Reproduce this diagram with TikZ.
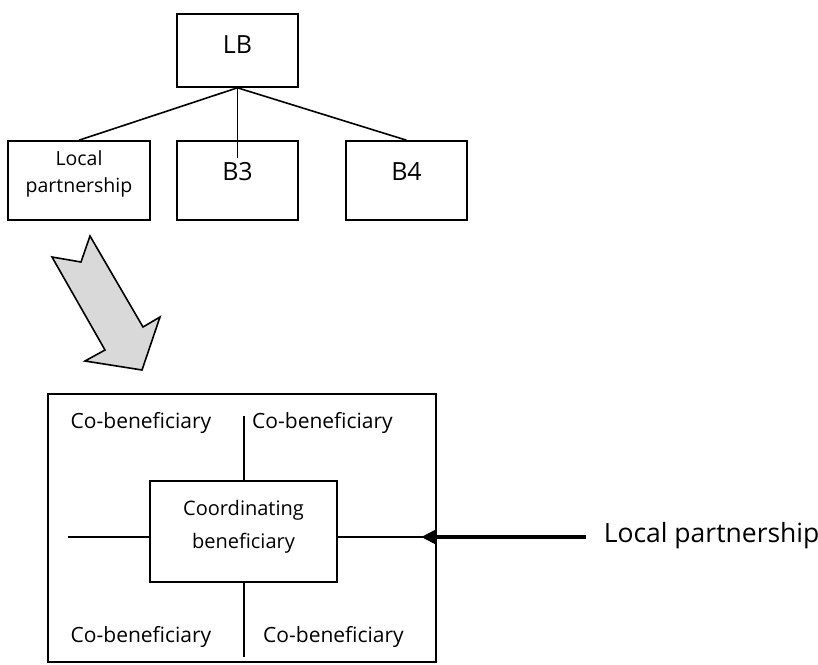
\documentclass[tikz,border=0pt]{standalone}
\usepackage{fontspec}
\setmainfont{Open Sans}
\usetikzlibrary{arrows.meta}

\begin{document}
\begin{tikzpicture}[x=1pt,y=-1pt,line width=1.6pt,
        box/.style={draw,rectangle,inner sep=0pt,align=center},
        bigtext/.style={font=\fontsize{25}{30}\selectfont},
        midtext/.style={font=\fontsize{19.5}{27}\selectfont},
        smalltext/.style={font=\fontsize{21}{33}\selectfont}]
                \useasboundingbox (0,0) rectangle (818,664);
                % upper tree
                \node [box, bigtext, minimum width=121pt, minimum height=73pt, text height=18pt, text depth=13pt] (lb) at (237.5,50.5) {LB};
                \node [box, midtext, minimum width=142pt, minimum height=79pt] (lp) at (79,180.5) {Local\\partnership\rule[-17pt]{0pt}{17pt}};
                \node [box, bigtext, minimum width=121pt, minimum height=79pt, text height=18pt, text depth=19pt] (b3) at (237.5,180.5) {B3};
                \node [box, bigtext, minimum width=121pt, minimum height=79pt, text height=18pt, text depth=19pt] (b4) at (406.5,180.5) {B4};
                \coordinate (b3end) at (237.5,158);
                \draw (lb.south)-- (lp.north);
                \draw (lb.south)-- (b3end);
                \draw (lb.south)-- (b4.north);
                % grey arrow
                \draw [fill=gray!30] (52,257)-- (81,262)-- (90,236)-- (143,327)-- (160,317)-- (142,370)-- (85,361)-- (105,350)-- cycle;
                % local partnership box
                \node [box, minimum width=388pt, minimum height=268pt] (outer) at (242,528) {};
                \node [box, font=\fontsize{20}{33}\selectfont, minimum width=187pt, minimum height=101pt] (cb) at (243.5,531.5) {Coordinating\\beneficiary\rule[-15pt]{0pt}{15pt}};
                \node [anchor=base, smalltext] (cotl) at (141,428) {Co-beneficiary};
                \node [anchor=base, smalltext] (cotr) at (322.5,428) {Co-beneficiary};
                \node [anchor=base, smalltext] (cobl) at (141,642) {Co-beneficiary};
                \node [anchor=base, smalltext] (cobr) at (333.5,642) {Co-beneficiary};
                \coordinate (ntop) at (244,416);
                \coordinate (nbot) at (244,657);
                \coordinate (wend) at (68,537);
                \draw (ntop)-- (ntop |- cb.north);
                \draw (nbot |- cb.south)-- (nbot);
                \draw (wend)-- (wend -| cb.west);
                \draw (cb.east |- wend)-- (outer.east |- wend);
                % incoming arrow
                \node [anchor=west, inner xsep=17pt, inner ysep=0pt, text height=19pt, text depth=9pt, font=\fontsize{26.5}{30}\selectfont] (lpl) at (586,537) {Local partnership};
                \coordinate (tip) at (421,537);
                \draw [line width=4pt, -{Triangle[length=15pt, width=14pt]}] (lpl.west)-- (tip);
\end{tikzpicture}
\end{document}
